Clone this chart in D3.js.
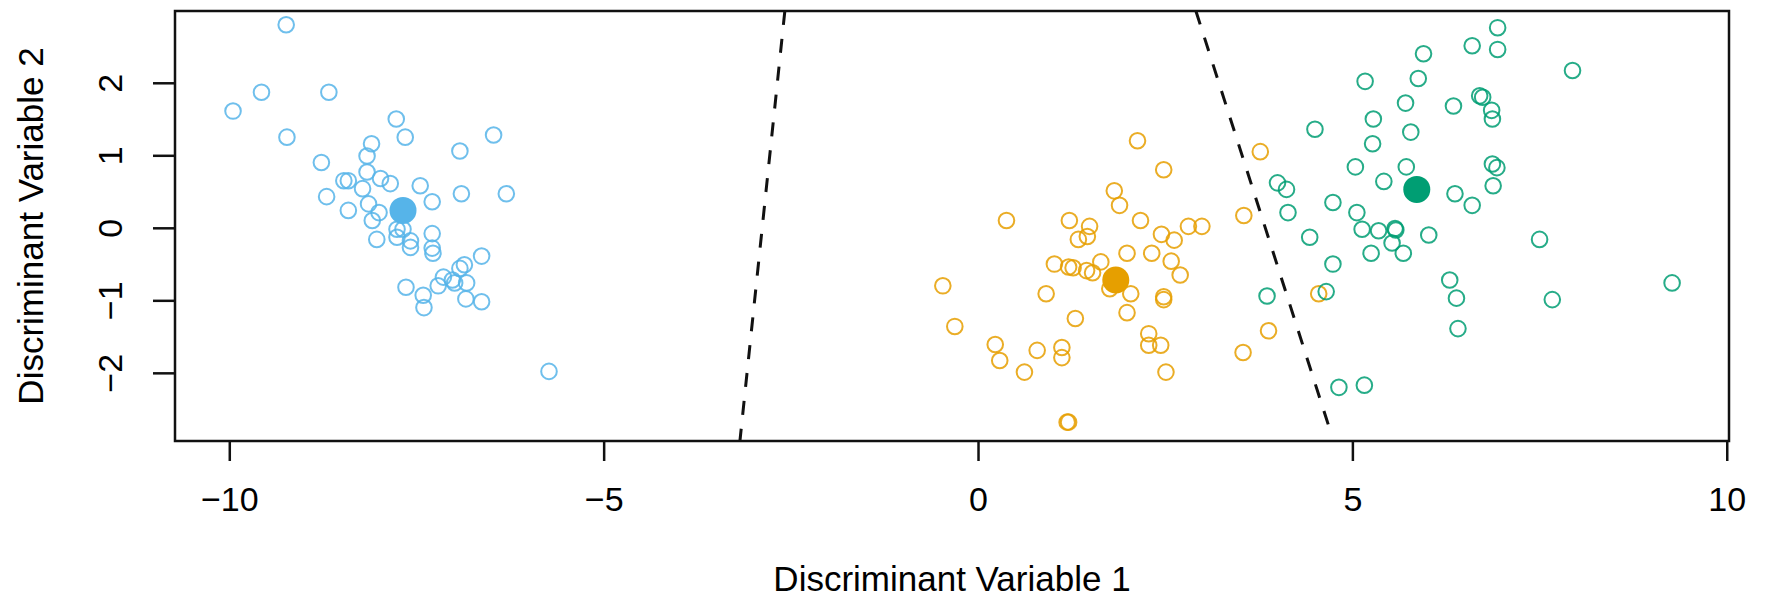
<!DOCTYPE html>
<html>
<head>
<meta charset="utf-8">
<script src="https://cdn.jsdelivr.net/npm/d3@7"></script>
<style>
  html, body { margin: 0; padding: 0; background: #fff; }
  svg { display: block; }
  text { font-family: "Liberation Sans", Arial, Helvetica, sans-serif; fill: #000; }
</style>
</head>
<body>
<svg id="chart" width="1765" height="603"></svg>
<script>
// Discriminant scores, one [dv1, dv2] pair per observation
const classNames = ["A", "B", "C"];
const classColors = ["#56B4E9", "#E69F00", "#009E73"];

const classA = [
  [-9.24, 2.80], [-9.57, 1.87], [-8.67, 1.87], [-9.95, 1.61], [-9.23, 1.25],
  [-7.77, 1.50], [-7.65, 1.25], [-6.47, 1.28], [-6.92, 1.06], [-8.10, 1.16],
  [-8.16, 0.99], [-8.77, 0.90], [-8.16, 0.77], [-8.47, 0.65], [-8.41, 0.65],
  [-7.98, 0.68], [-7.85, 0.61], [-8.22, 0.54], [-7.45, 0.58], [-8.70, 0.43],
  [-7.29, 0.36], [-6.90, 0.47], [-6.30, 0.47], [-8.41, 0.24], [-8.14, 0.33],
  [-8.00, 0.21], [-8.09, 0.10], [-8.03, -0.16], [-7.76, -0.02], [-7.68, -0.02],
  [-7.76, -0.13], [-7.29, -0.08], [-7.58, -0.18], [-7.58, -0.27], [-7.29, -0.28],
  [-7.28, -0.35], [-6.63, -0.39], [-6.86, -0.51], [-6.92, -0.56], [-7.14, -0.68],
  [-7.02, -0.72], [-6.83, -0.76], [-7.21, -0.80], [-7.64, -0.82], [-7.41, -0.93],
  [-6.84, -0.98], [-6.63, -1.02], [-7.40, -1.10], [-5.73, -1.98], [-6.99, -0.76]
];

const classB = [
  [2.13, 1.20], [2.48, 0.80], [3.77, 1.05], [1.82, 0.51], [1.89, 0.31],
  [0.38, 0.10], [1.22, 0.10], [1.49, 0.02], [2.17, 0.10], [2.45, -0.09],
  [2.81, 0.02], [2.99, 0.02], [3.55, 0.17], [2.62, -0.17], [1.34, -0.16],
  [1.46, -0.12], [1.99, -0.35], [2.32, -0.35], [2.58, -0.46], [2.70, -0.65],
  [1.02, -0.50], [1.21, -0.54], [1.27, -0.55], [1.45, -0.59], [1.53, -0.62],
  [1.64, -0.47], [-0.47, -0.80], [0.91, -0.91], [1.76, -0.84], [2.04, -0.91],
  [2.48, -0.95], [2.48, -0.99], [1.99, -1.17], [1.30, -1.25], [-0.31, -1.36],
  [0.23, -1.61], [0.29, -1.83], [0.79, -1.69], [1.12, -1.65], [1.12, -1.79],
  [0.62, -1.99], [2.28, -1.46], [2.28, -1.62], [2.44, -1.62], [2.51, -1.99],
  [1.19, -2.68], [1.21, -2.68], [3.88, -1.42], [3.54, -1.72], [4.55, -0.91]
];

const classC = [
  [6.94, 2.76], [6.60, 2.51], [6.94, 2.46], [5.95, 2.40], [7.94, 2.17],
  [5.17, 2.02], [5.88, 2.06], [5.71, 1.72], [6.35, 1.68], [6.70, 1.82],
  [6.74, 1.80], [6.86, 1.62], [6.87, 1.50], [5.28, 1.50], [4.50, 1.36],
  [5.78, 1.32], [5.27, 1.16], [5.04, 0.84], [5.72, 0.84], [6.87, 0.88],
  [6.93, 0.83], [5.42, 0.64], [6.88, 0.58], [6.37, 0.47], [6.60, 0.31],
  [4.00, 0.62], [4.12, 0.53], [4.74, 0.35], [4.14, 0.21], [5.06, 0.21],
  [5.13, -0.02], [5.35, -0.04], [5.57, -0.01], [5.58, -0.03], [4.43, -0.13],
  [6.02, -0.10], [5.53, -0.21], [5.25, -0.35], [5.68, -0.35], [7.50, -0.16],
  [4.74, -0.50], [6.30, -0.72], [6.39, -0.97], [7.67, -0.99], [9.27, -0.76],
  [6.41, -1.39], [3.86, -0.94], [4.65, -0.88], [4.82, -2.20], [5.16, -2.17]
];

// Class means in discriminant space
const classMeans = [[-7.68, 0.24], [1.84, -0.72], [5.86, 0.53]];

// Decision boundaries between neighbouring classes (end points)
const boundaryAB = [[-2.58, 2.99], [-3.18, -2.94]];
const boundaryBC = [[2.91, 2.99], [4.68, -2.72]];

const xTicks = [-10, -5, 0, 5, 10];
const yTicks = [-2, -1, 0, 1, 2];
const xTitle = "Discriminant Variable 1";
const yTitle = "Discriminant Variable 2";

const classes = [classA, classB, classC];

// ---- layout ----
const plot = { left: 175, right: 1729, top: 11, bottom: 441 };
const x = d3.scaleLinear().domain([-10.725, 10.03]).range([plot.left, plot.right]);
const y = d3.scaleLinear().domain([-2.94, 2.99]).range([plot.bottom, plot.top]);

const svg = d3.select("#chart");
const fontSize = 34;
const intFmt = d3.format("d");

// observations (open circles)
classes.forEach((pts, i) => {
  svg.append("g")
    .attr("class", "obs-" + classNames[i])
    .selectAll("circle")
    .data(pts)
    .join("circle")
    .attr("cx", d => x(d[0]))
    .attr("cy", d => y(d[1]))
    .attr("r", 7.8)
    .attr("fill", "none")
    .attr("stroke", classColors[i])
    .attr("stroke-width", 2)
    .attr("stroke-opacity", 0.85);
});

// class means (filled)
svg.append("g")
  .selectAll("circle")
  .data(classMeans)
  .join("circle")
  .attr("cx", d => x(d[0]))
  .attr("cy", d => y(d[1]))
  .attr("r", 13.5)
  .attr("fill", (d, i) => classColors[i]);

// dashed boundaries
const line = d3.line().x(d => x(d[0])).y(d => y(d[1]));
[boundaryAB, boundaryBC].forEach(b => {
  svg.append("path")
    .attr("d", line(b))
    .attr("fill", "none")
    .attr("stroke", "#111")
    .attr("stroke-width", 3)
    .attr("stroke-dasharray", "14,14");
});

// frame
svg.append("rect")
  .attr("x", plot.left).attr("y", plot.top)
  .attr("width", plot.right - plot.left)
  .attr("height", plot.bottom - plot.top)
  .attr("fill", "none")
  .attr("stroke", "#111")
  .attr("stroke-width", 2.5);

// x axis
const gx = svg.append("g")
  .attr("transform", `translate(0,${plot.bottom})`)
  .call(d3.axisBottom(x).tickValues(xTicks).tickFormat(intFmt).tickSize(20));
gx.select(".domain").remove();
gx.selectAll(".tick line").attr("stroke", "#111").attr("stroke-width", 2.5);
gx.selectAll(".tick text")
  .attr("font-size", fontSize)
  .attr("font-family", null)
  .attr("dy", null)
  .attr("y", 70);

// y axis with labels parallel to the axis
const gy = svg.append("g")
  .attr("transform", `translate(${plot.left},0)`)
  .call(d3.axisLeft(y).tickValues(yTicks).tickFormat(intFmt).tickSize(22));
gy.select(".domain").remove();
gy.selectAll(".tick line").attr("stroke", "#111").attr("stroke-width", 2.5);
gy.selectAll(".tick text")
  .attr("font-size", fontSize)
  .attr("font-family", null)
  .attr("x", null).attr("dy", null)
  .attr("text-anchor", "middle")
  .attr("transform", "translate(-53,0) rotate(-90)");

// axis titles
svg.append("text")
  .attr("x", (plot.left + plot.right) / 2)
  .attr("y", 591)
  .attr("text-anchor", "middle")
  .attr("font-size", 35)
  .text(xTitle);

svg.append("text")
  .attr("transform", `translate(43,${(plot.top + plot.bottom) / 2}) rotate(-90)`)
  .attr("text-anchor", "middle")
  .attr("font-size", 35)
  .text(yTitle);
</script>
</body>
</html>
